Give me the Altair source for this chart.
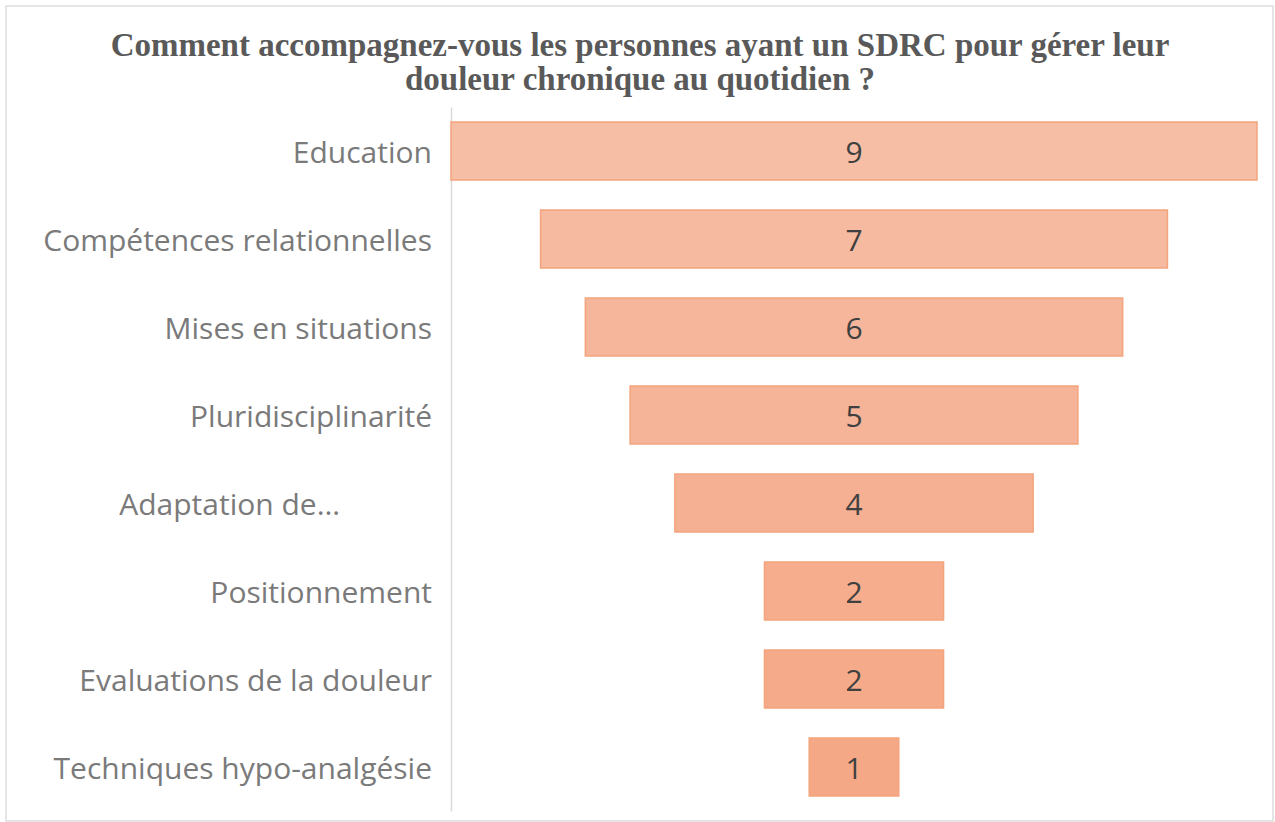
import altair as alt
import pandas as pd

categories = [
    "Education",
    "Compétences relationnelles",
    "Mises en situations",
    "Pluridisciplinarité",
    "Adaptation de…",
    "Positionnement",
    "Evaluations de la douleur",
    "Techniques hypo-analgésie",
]
values = [9, 7, 6, 5, 4, 2, 2, 1]
colors = ["#F6BEA4", "#F6BAA0", "#F5B69B", "#F5B398", "#F5B093", "#F5AD8D", "#F5AB8A", "#F5A886"]

total = max(values)
df = pd.DataFrame({"cat": categories, "v": values, "col": colors})
df["start"] = (total - df["v"]) / 2
df["end"] = (total + df["v"]) / 2
df["mid"] = total / 2

y = alt.Y("cat:N", sort=categories, title=None,
          scale=alt.Scale(paddingInner=0.34, paddingOuter=0.17),
          axis=alt.Axis(domainColor="#D9D9D9", domainWidth=1.5, ticks=False, labels=False))
xs = alt.Scale(domain=[0, total], nice=False, zero=False)

bars = alt.Chart(df).mark_bar(stroke="#F4A47C", strokeWidth=1.5).encode(
    x=alt.X("start:Q", scale=xs, axis=None),
    x2="end:Q",
    y=y,
    color=alt.Color("col:N", scale=None),
)
text = alt.Chart(df).mark_text(font="Open Sans", fontSize=30, color="#404040", dy=3).encode(
    x=alt.X("mid:Q", scale=xs, axis=None),
    y=y,
    text="v:Q",
)
labels = alt.Chart(df).transform_filter(
    "datum.cat != 'Adaptation de…'"
).mark_text(font="Open Sans", fontSize=30, color="#7A7A7A", align="right", dx=-19, dy=3).encode(
    x=alt.value(0), y=y, text="cat:N",
)
labels_adapt = alt.Chart(df).transform_filter(
    "datum.cat == 'Adaptation de…'"
).mark_text(font="Open Sans", fontSize=30, color="#7A7A7A", align="right", dx=-111, dy=3).encode(
    x=alt.value(0), y=y, text="cat:N",
)
frame = alt.Chart(df).transform_filter("datum.v == 9").mark_rect(
    fill="transparent", stroke="#DDDDDD", strokeWidth=1.5
).encode(
    x=alt.value(-445), x2=alt.value(822), y=alt.value(-101), y2=alt.value(714),
)

chart = (frame + bars + text + labels + labels_adapt).properties(
    width=806, height=704,
    background="white",
    title=alt.TitleParams(
        ["Comment accompagnez-vous les personnes ayant un SDRC pour gérer leur",
         "douleur chronique au quotidien ?"],
        font="Liberation Serif", fontSize=33, fontWeight="bold", color="#595959",
        anchor="middle", dx=-214, offset=-92, lineHeight=34,
    ),
    autosize=alt.AutoSizeParams(type="none"),
    padding={"left": 451, "top": 107, "right": 18, "bottom": 11},
).configure_view(stroke=None, strokeWidth=0)

chart.save("out.html", embed_options={"renderer": "svg", "actions": False})
